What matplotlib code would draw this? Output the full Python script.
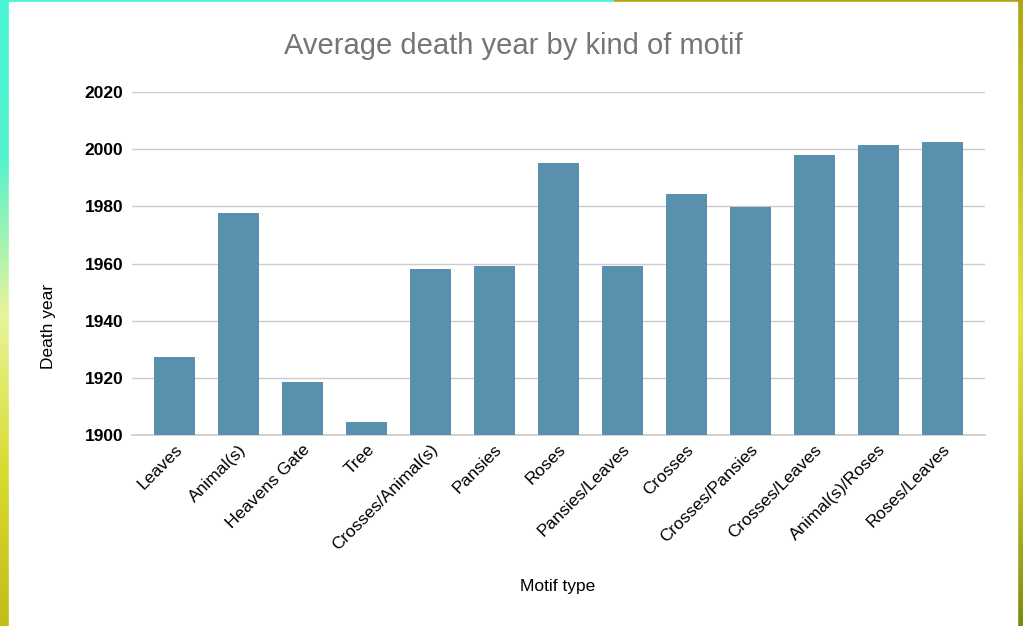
import numpy as np
import matplotlib.pyplot as plt
from matplotlib.patches import Rectangle
from matplotlib.colors import LinearSegmentedColormap

plt.rcParams['font.family'] = ['Liberation Sans', 'DejaVu Sans']

motifs = ['Leaves', 'Animal(s)', 'Heavens Gate', 'Tree', 'Crosses/Animal(s)',
          'Pansies', 'Roses', 'Pansies/Leaves', 'Crosses', 'Crosses/Pansies',
          'Crosses/Leaves', 'Animal(s)/Roses', 'Roses/Leaves']
avg_year = [1927.2, 1977.6, 1918.4, 1904.7, 1958.0,
            1959.1, 1995.2, 1959.1, 1984.2, 1979.6,
            1998.0, 2001.5, 2002.6]
y_ticks = [1900, 1920, 1940, 1960, 1980, 2000, 2020]

fig = plt.figure(figsize=(10.23, 6.26), dpi=100)

# backdrop behind the chart card
bg = fig.add_axes([0, 0, 1, 1])
bg.set_axis_off()
left_cmap = LinearSegmentedColormap.from_list(
    'left', ['#48f5d4', '#52f2cc', '#e8f59a', '#d8dc30', '#c4bc18'])
right_cmap = LinearSegmentedColormap.from_list(
    'right', ['#b0a412', '#c8c228', '#e2e448', '#c8c42a', '#7a8a10'])
grad = np.linspace(0, 1, 256).reshape(-1, 1)
bg.imshow(grad, cmap=left_cmap, extent=[0, 0.6, 0, 1], aspect='auto', origin='lower')
bg.imshow(grad, cmap=right_cmap, extent=[0.6, 1, 0, 1], aspect='auto', origin='lower')
bg.set_xlim(0, 1)
bg.set_ylim(1, 0)
bg.add_patch(Rectangle((9 / 1023, 2 / 626), 1008 / 1023, 1, color='white', zorder=3))

ax = fig.add_axes([131.7 / 1023, 1 - 435 / 626, 853.3 / 1023, 343 / 626])
ax.set_facecolor('none')

x = np.arange(len(motifs))
ax.bar(x, np.array(avg_year) - 1900, bottom=1900, width=0.64,
       color='#5890ad', zorder=3)

ax.set_ylim(1900, 2020)
ax.set_xlim(-0.67, len(motifs) - 0.33)
ax.set_yticks(y_ticks)
ax.set_yticklabels([str(t) for t in y_ticks], fontsize=12.5, fontweight='bold')
ax.set_xticks(x)
ax.set_xticklabels(motifs, rotation=45, ha='right', rotation_mode='anchor',
                   fontsize=12.5)
ax.tick_params(axis='y', length=0, pad=6)
ax.tick_params(axis='x', length=0, pad=5)
for lbl in ax.get_xticklabels():
    lbl.set_x(lbl.get_position()[0] + 0.05)
ax.grid(axis='y', color='#cccccc', linewidth=1, zorder=0)
ax.axhline(1900, color='#cccccc', linewidth=1.2, clip_on=False, zorder=2)
for s in ax.spines.values():
    s.set_visible(False)

fig.text(48 / 1023, 1 - 326 / 626, 'Death year', fontsize=12.5, rotation=90,
         ha='center', va='center')
fig.text(558 / 1023, 1 - 587 / 626, 'Motif type', fontsize=12.5, ha='center', va='center')
fig.text(513 / 1023, 1 - 46 / 626, 'Average death year by kind of motif', fontsize=21,
         color='#757575', ha='center', va='center')

fig.savefig('out.png', dpi=100)
